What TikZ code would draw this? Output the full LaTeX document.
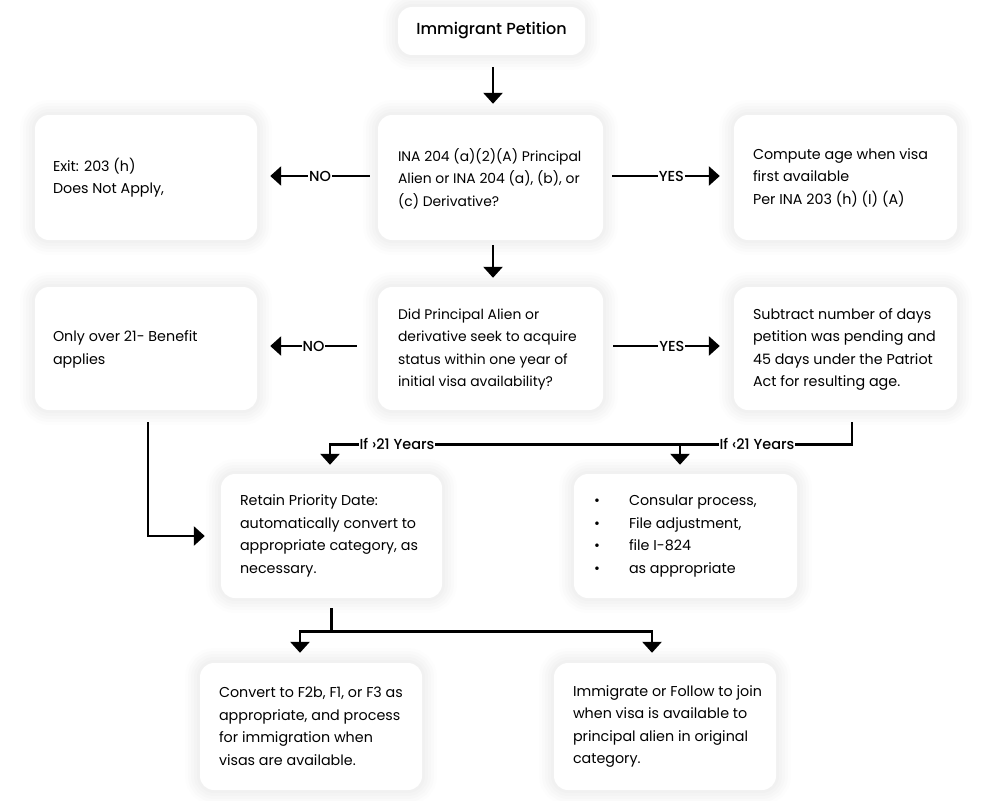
\documentclass[tikz,border=0pt]{standalone}
\usepackage{fontspec}
\setmainfont{Poppins}[BoldFont={Poppins Medium}]
\usetikzlibrary{arrows.meta}
\begin{document}
\begin{tikzpicture}[x=1pt,y=-1pt,
  box/.style={fill=white, rounded corners=14pt, inner sep=0pt,
    preaction={draw=black, draw opacity=0.008, line width=30pt},
    preaction={draw=black, draw opacity=0.010, line width=24pt},
    preaction={draw=black, draw opacity=0.011, line width=18pt},
    preaction={draw=black, draw opacity=0.012, line width=12pt},
    preaction={draw=black, draw opacity=0.013, line width=6pt}},
  txt/.style={font=\fontsize{14.3}{22.5}\selectfont, align=left, inner sep=0pt, anchor=west},
  txtn/.style={txt, font=\fontsize{13.9}{22.3}\selectfont},
  conn/.style={line width=2.8pt, -{Triangle[width=19pt,length=11pt]}},
  lab/.style={font=\bfseries\fontsize{14.5}{16}\selectfont, fill=white, inner xsep=1pt, inner ysep=2pt}]
\fill[white] (0,0) rectangle (987,800);
\useasboundingbox (0,0) rectangle (987,800);

% boxes
\node[box, minimum width=187pt, minimum height=48pt] (top) at (491.5,31) {};
\node[font=\bfseries\fontsize{16}{18}\selectfont, inner sep=0pt] (toptxt) at (top) {Immigrant Petition};

\node[box, minimum width=222pt, minimum height=125pt] (l1) at (146,177.5) {};
\node[box, minimum width=225pt, minimum height=125pt] (ina) at (490.5,177.5) {};
\node[box, minimum width=223pt, minimum height=125pt] (r1) at (845.5,177.5) {};

\node[box, minimum width=222pt, minimum height=123pt] (l2) at (146,348.5) {};
\node[box, minimum width=225pt, minimum height=123pt] (mid2) at (490.5,348.5) {};
\node[box, minimum width=223pt, minimum height=123pt] (r2) at (845.5,348.5) {};

\node[box, minimum width=221pt, minimum height=124pt] (retain) at (331.5,536) {};
\node[box, minimum width=223pt, minimum height=124pt] (cons) at (685.5,536) {};

\node[box, minimum width=222pt, minimum height=127pt] (bl) at (311,726.5) {};
\node[box, minimum width=222pt, minimum height=127pt] (br) at (665,726.5) {};

% texts
\node[txt] (l1t) at ([xshift=18pt]l1.west) {Exit: 203 (h)\\Does Not Apply,};
\node[txtn] (inat) at ([xshift=20pt,yshift=-1pt]ina.west) {INA 204 (a)(2)(A) Principal\\Alien or INA 204 (a), (b), or\\(c) Derivative?};
\node[txt] (r1t) at ([xshift=19pt]r1.west) {Compute age when visa\\first available\\Per INA 203 (h) (I) (A)};

\node[txt] (l2t) at ([xshift=18pt,yshift=-1pt]l2.west) {Only over 21- Benefit\\applies};
\node[txtn] (mid2t) at ([xshift=20pt,yshift=-1pt]mid2.west) {Did Principal Alien or\\derivative seek to acquire\\status within one year of\\initial visa availability?};
\node[txt] (r2t) at ([xshift=19pt,yshift=-1pt]r2.west) {Subtract number of days\\petition was pending and\\45 days under the Patriot\\Act for resulting age.};

\node[txt] (rett) at ([xshift=19pt]retain.west) {Retain Priority Date:\\automatically convert to\\appropriate category, as\\necessary.};
\node[txt] (const) at ([xshift=20pt]cons.west) {\makebox[35pt][l]{•}Consular process,\\\makebox[35pt][l]{•}File adjustment,\\\makebox[35pt][l]{•}file I-824\\\makebox[35pt][l]{•}as appropriate};

\node[txt] (blt) at ([xshift=19pt]bl.west) {Convert to F2b, F1, or F3 as\\appropriate, and process\\for immigration when\\visas are available.};
\node[txt] (brt) at ([xshift=19pt]br.west) {Immigrate or Follow to join\\when visa is available to\\principal alien in original\\category.};

% connectors
\draw[conn] ([xshift=1.5pt,yshift=-12pt]top.south) -- ([xshift=2.5pt,yshift=11pt]ina.north);
\draw[conn] ([xshift=-8pt,yshift=1.5pt]ina.west) -- node[lab] (no1) {NO} ([xshift=13pt,yshift=1.5pt]l1.east);
\draw[conn] ([xshift=9pt,yshift=1.5pt]ina.east) -- node[lab, pos=0.55] (yes1) {YES} ([xshift=-14pt,yshift=1.5pt]r1.west);
\draw[conn] ([xshift=2.5pt,yshift=-5pt]ina.south) -- ([xshift=2.5pt,yshift=9pt]mid2.north);

\draw[conn] ([xshift=-21pt,yshift=2.5pt]mid2.west) -- node[lab] (no2) {NO} ([xshift=13pt,yshift=2.5pt]l2.east);
\draw[conn] ([xshift=10pt,yshift=2.5pt]mid2.east) -- node[lab, pos=0.55] (yes2) {YES} ([xshift=-14pt,yshift=2.5pt]r2.west);

\draw[conn] ([xshift=2pt,yshift=-12pt]l2.south) |- ([xshift=-16pt]retain.west);

\draw[conn] ([xshift=6.5pt,yshift=-12pt]r2.south) |- ([xshift=-1.5pt,yshift=29pt]retain.north) -- ([xshift=-1.5pt,yshift=9pt]retain.north);
\draw[conn] ([xshift=-5.5pt,yshift=29pt]cons.north) -- ([xshift=-5.5pt,yshift=9pt]cons.north);
\node[lab] (gt21) at (397,444) {If ›21 Years};
\node[lab] (lt21) at (757,444) {If ‹21 Years};

\draw[conn] ([yshift=-10pt]retain.south) |- ([xshift=-11pt,yshift=31pt]bl.north) -- ([xshift=-11pt,yshift=10pt]bl.north);
\draw[conn] ([yshift=-10pt]retain.south) |- ([xshift=-13pt,yshift=31pt]br.north) -- ([xshift=-13pt,yshift=10pt]br.north);
\end{tikzpicture}
\end{document}
